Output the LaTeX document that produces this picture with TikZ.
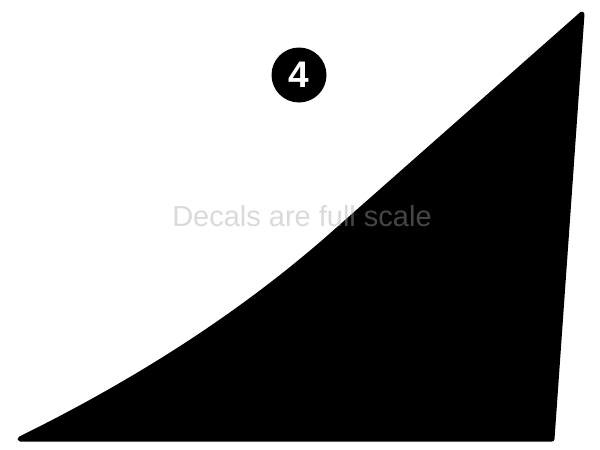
\documentclass[tikz,border=0pt]{standalone}
\usepackage{fontspec}
\setmainfont{Liberation Sans}
\begin{document}
\begin{tikzpicture}[x=1pt,y=-1pt,
  decal/.style={fill=black,draw=black,line width=5pt,line join=round},
  badge/.style={circle,fill=black,minimum size=55pt,inner sep=0pt,text=white,font=\bfseries\fontsize{37}{37}\selectfont},
  note/.style={text=gray!70,opacity=0.42,font=\fontsize{29}{29}\selectfont,inner sep=0pt}]
\useasboundingbox (0,0) rectangle (600,450);
\coordinate (tr) at (582,14);
\coordinate (br) at (552,439);
\coordinate (bl) at (20,439);
\coordinate (mid) at (342,226);
\draw[decal] (tr) -- (mid) .. controls (262,298) and (160,370) .. (bl) -- (br) -- cycle;
\node[badge] (num) at (299,75) {4};
\node[note] (txt) at (302,216) {Decals are full scale};
\end{tikzpicture}
\end{document}
